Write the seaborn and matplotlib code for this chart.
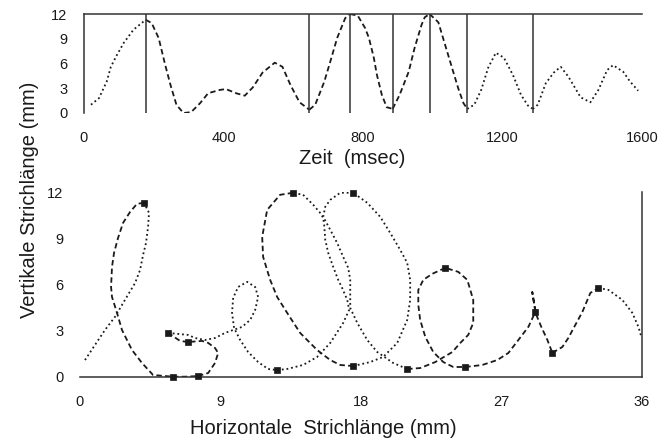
import matplotlib
matplotlib.use('Agg')
import matplotlib.pyplot as plt
import pandas as pd
import seaborn as sns

# ---- upper panel: vertical pen position over time ----
zeit_ms = [20, 43, 65, 77, 94, 114, 142, 177, 194, 214, 233, 248, 265, 285, 307,
           333, 356, 390, 407, 436, 461, 484, 512, 547, 569, 592, 618, 646, 663,
           689, 706, 726, 749, 763, 785, 806, 817, 831, 840, 854, 868, 885, 905,
           931, 948, 968, 977, 991, 1016, 1033, 1053, 1073, 1088, 1099, 1119,
           1139, 1159, 1181, 1204, 1230, 1253, 1273, 1287, 1301, 1324, 1347,
           1367, 1389, 1424, 1452, 1475, 1500, 1517, 1546, 1566, 1589]
vert_mm = [1.0, 1.8, 3.8, 5.6, 7.0, 8.5, 10.1, 11.3, 10.9, 9.1, 5.8, 3.4, 1.0,
           0.0, 0.1, 1.2, 2.4, 2.8, 2.9, 2.4, 2.1, 3.1, 4.9, 6.1, 5.6, 3.4, 1.3,
           0.4, 1.0, 3.8, 6.2, 9.1, 11.5, 12.0, 11.8, 10.3, 9.1, 6.7, 4.6, 2.2,
           0.7, 0.5, 2.2, 5.0, 7.9, 10.7, 11.6, 12.0, 11.0, 8.6, 5.8, 3.0, 1.2,
           0.5, 1.0, 2.8, 5.5, 7.3, 6.7, 4.6, 2.2, 0.9, 0.5, 1.0, 3.6, 4.9, 5.6,
           4.4, 1.9, 1.3, 2.8, 5.2, 5.8, 5.0, 3.8, 2.7]
# times of the segment boundaries (vertical lines)
grenzen_ms = [177, 646, 763, 885, 991, 1099, 1287]

# ---- lower panel: pen trajectory ----
traj_x = [0.32, 0.96, 1.60, 2.24, 2.88, 3.53, 3.85, 4.04, 4.23, 4.36, 4.42, 4.10,
          3.65, 3.21, 2.76, 2.44, 2.18, 2.05, 1.99, 2.05, 2.37, 2.69, 3.33, 3.97,
          4.68, 5.96, 6.73, 7.56, 8.21, 8.65, 8.85, 8.65, 8.21, 7.82, 6.92, 6.41,
          5.64, 6.92, 7.37, 8.01, 8.65, 9.29, 9.81, 10.38, 10.90, 11.22, 11.41,
          11.22, 10.71, 10.13, 9.81, 9.74, 9.87, 10.26, 10.77, 11.41, 12.05, 12.63,
          13.27, 14.29, 15.19, 16.03, 16.86, 17.24, 17.12, 16.79, 16.54, 16.22,
          15.90, 15.71, 15.64, 15.58, 15.38, 14.94, 14.29, 13.65, 12.82, 11.99,
          11.67, 11.73, 12.18, 12.63, 13.27, 14.10, 15.19, 16.03, 16.67, 17.50,
          18.59, 19.42, 20.32, 20.96, 21.15, 21.15, 20.96, 20.51, 19.87, 19.23,
          18.40, 17.50, 16.67, 16.03, 15.71, 15.58, 16.03, 16.47, 16.86, 17.18,
          17.31, 17.31, 17.31, 17.76, 18.40, 19.04, 20.06, 20.96, 21.79, 22.76,
          23.85, 24.36, 24.87, 25.19, 25.19, 24.81, 24.23, 23.40, 22.56, 21.99,
          21.67, 21.67, 21.79, 22.12, 22.63, 23.27, 23.91, 24.68, 25.77, 26.73,
          27.44, 28.08, 28.72, 29.17, 28.97, 29.20, 29.55, 29.94, 30.26, 30.90,
          31.28, 31.73, 32.18, 32.69, 33.21, 33.85, 34.74, 35.38, 35.77, 35.96]
traj_y = [1.10, 2.08, 3.05, 3.90, 5.00, 6.10, 6.95, 7.92, 8.70, 9.74, 10.65, 11.30,
          11.23, 10.71, 10.00, 9.03, 8.05, 7.14, 5.84, 5.19, 4.16, 3.05, 1.75, 0.91,
          0.13, 0.02, 0.02, 0.06, 0.26, 0.91, 1.56, 1.88, 2.21, 2.34, 2.27, 2.34,
          2.86, 2.73, 2.53, 2.40, 2.53, 2.86, 3.05, 3.25, 3.70, 4.35, 5.19, 5.84,
          6.17, 5.84, 5.13, 4.16, 3.18, 2.40, 1.62, 0.97, 0.52, 0.45, 0.52, 0.78,
          1.30, 2.21, 3.51, 4.35, 5.00, 5.78, 6.30, 7.14, 8.05, 8.90, 9.87, 10.32,
          10.65, 11.17, 11.82, 11.95, 11.82, 10.84, 9.09, 7.79, 6.30, 5.19, 4.16,
          2.86, 1.75, 1.10, 0.78, 0.71, 0.97, 1.30, 2.21, 3.70, 5.00, 6.30, 7.40,
          8.25, 9.35, 10.39, 11.30, 11.95, 11.95, 11.49, 11.04, 10.39, 9.55, 8.70,
          7.79, 7.08, 6.30, 5.52, 4.48, 3.51, 2.40, 1.62, 0.91, 0.52, 0.58, 0.97,
          1.62, 2.21, 2.73, 3.51, 5.00, 6.30, 6.82, 7.08, 6.69, 6.30, 5.65, 4.68,
          3.70, 2.60, 1.62, 0.97, 0.65, 0.65, 0.78, 1.10, 1.56, 2.40, 3.25, 4.22,
          5.52, 4.10, 3.25, 2.40, 1.56, 1.95, 2.53, 3.38, 4.22, 5.45, 5.78, 5.65,
          5.00, 4.16, 3.25, 2.60]
# trajectory points where one stroke ends and the next begins
strich_enden = [11, 25, 27, 34, 36, 57, 75, 87, 99, 115, 125, 135, 141, 146, 152]

DOT = (1, 1.6)
DASH = (3, 1.8)
top_styles = [DOT, DASH, DASH, DASH, DASH, DASH, DOT, DOT]
bot_styles = [DOT, DASH, DASH, DASH, DASH, DOT, DOT, DASH, DOT, DOT, DASH,
              DASH, DASH, DASH, DASH, DOT]


def split_segments(x, y, breaks):
    bounds = [0] + list(breaks) + [len(x) - 1]
    rows = []
    for s in range(len(bounds) - 1):
        for i in range(bounds[s], bounds[s + 1] + 1):
            rows.append({'x': x[i], 'y': y[i], 'seg': s})
    return pd.DataFrame(rows)


sns.set_style('white')
plt.rcParams['font.family'] = ['Liberation Sans', 'DejaVu Sans']
ink = '#1a1a1a'

fig = plt.figure(figsize=(6.64, 4.43), dpi=100)
ax_t = fig.add_axes([84 / 664, 1 - 113 / 443, 558 / 664, 99 / 443])
ax_b = fig.add_axes([80 / 664, 1 - 377 / 443, 562 / 664, 185 / 443])

# upper panel
top_breaks = [zeit_ms.index(t) for t in grenzen_ms]
df_t = split_segments(zeit_ms, vert_mm, top_breaks)
sns.lineplot(data=df_t, x='x', y='y', units='seg', style='seg', dashes=top_styles,
             sort=False, estimator=None, color=ink, lw=1.3, legend=False, ax=ax_t)
ax_t.vlines(grenzen_ms, 0, 12, color='#333333', lw=1.1)
ax_t.set_xlim(0, 1600)
ax_t.set_ylim(0, 12)
ax_t.set_xticks([0, 400, 800, 1200, 1600])
ax_t.set_yticks([0, 3, 6, 9, 12])
for side in ['bottom', 'right']:
    ax_t.spines[side].set_visible(False)
for side in ['top', 'left']:
    ax_t.spines[side].set_color('#333333')
    ax_t.spines[side].set_linewidth(1.1)
ax_t.tick_params(axis='x', length=5, width=0.8, pad=8, labelsize=10.5, colors=ink)
ax_t.tick_params(axis='y', length=3, width=0.8, pad=9, labelsize=10.5, colors=ink)
ax_t.set_xlabel('')
ax_t.set_ylabel('')

# lower panel
df_b = split_segments(traj_x, traj_y, strich_enden)
sns.lineplot(data=df_b, x='x', y='y', units='seg', style='seg', dashes=bot_styles,
             sort=False, estimator=None, color=ink, lw=1.3, legend=False, ax=ax_b)
sns.scatterplot(x=[traj_x[i] for i in strich_enden], y=[traj_y[i] for i in strich_enden],
                marker='s', s=20, color=ink, edgecolor=ink, linewidth=0.5, ax=ax_b,
                clip_on=False, zorder=3)
ax_b.set_xlim(0, 36)
ax_b.set_ylim(0, 12)
ax_b.set_xticks([0, 9, 18, 27, 36])
ax_b.set_yticks([0, 3, 6, 9, 12])
for side in ['top', 'left']:
    ax_b.spines[side].set_visible(False)
for side in ['bottom', 'right']:
    ax_b.spines[side].set_color('#333333')
    ax_b.spines[side].set_linewidth(1.1)
ax_b.tick_params(axis='x', length=4, width=0.8, pad=9, labelsize=10.5, colors=ink)
ax_b.tick_params(axis='y', length=3, width=0.8, pad=9, labelsize=10.5, colors=ink)
ax_b.set_xlabel('')
ax_b.set_ylabel('')

fig.text(352 / 664, 1 - 158 / 443, 'Zeit  (msec)', ha='center', va='center',
         fontsize=14.5, color=ink)
fig.text(323 / 664, 1 - 428 / 443, 'Horizontale  Strichlänge (mm)', ha='center',
         va='center', fontsize=14.5, color=ink)
fig.text(30 / 664, 1 - 200 / 443, 'Vertikale Strichlänge (mm)', ha='center',
         va='center', rotation=90, fontsize=14.5, color=ink)

fig.savefig('out.png', dpi=100)
